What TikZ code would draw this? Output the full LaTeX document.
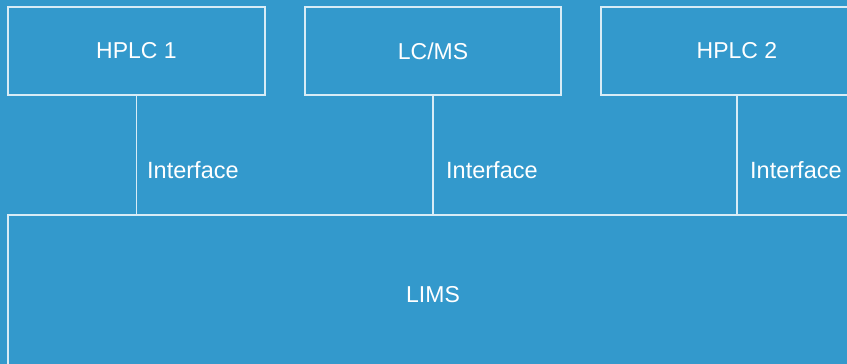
\documentclass[tikz,border=0pt]{standalone}
\usepackage{fontspec}
\setmainfont{Liberation Sans}
\definecolor{bg}{HTML}{3399CC}
\definecolor{edge}{HTML}{D8ECF6}
\begin{document}
\begin{tikzpicture}[x=1pt,y=-1pt,
  box/.style={draw=edge, line width=1.3pt, fill=bg, text=white, inner sep=0pt, font=\fontsize{23}{27}\selectfont},
  link/.style={draw=edge, line width=1.3pt},
  lbl/.style={text=white, anchor=west, inner sep=0pt, font=\fontsize{23.5}{27}\selectfont}]
\fill[bg] (0,0) rectangle (847,364);
\useasboundingbox (0,0) rectangle (847,364);
\begin{scope}
\clip (0,0) rectangle (847,364);
\node[box, minimum width=257pt, minimum height=88pt] (h1) at (136.5,51) {HPLC 1};
\node[box, minimum width=256pt, minimum height=88pt] (lc) at (433,51) {LC/MS};
\node[box, minimum width=272pt, minimum height=88pt] (h2) at (737,51) {HPLC 2};
\node[box, minimum width=892pt, minimum height=160pt] (lims) at (454,295) {};
\node[text=white, inner sep=0pt, font=\fontsize{23}{27}\selectfont] (limst) at (433,295) {LIMS};
\draw[link] (h1.south) -- (h1.south |- lims.north);
\draw[link] (lc.south) -- (lc.south |- lims.north);
\draw[link] (h2.south) -- (h2.south |- lims.north);
\node[lbl] (i1) at (147,170) {Interface};
\node[lbl] (i2) at (446,170) {Interface};
\node[lbl] (i3) at (750,170) {Interface};
\end{scope}
\end{tikzpicture}
\end{document}
